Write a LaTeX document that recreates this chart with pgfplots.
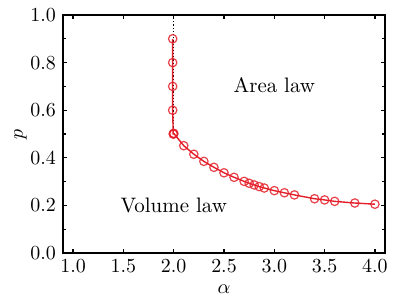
\documentclass[border=0pt]{standalone}
\usepackage{pgfplots}
\pgfplotsset{compat=1.18}
\definecolor{myred}{RGB}{228,30,40}
\begin{document}
\begin{tikzpicture}
\begin{axis}[name=ax,
  scale only axis, width=161bp, height=119bp,
  xmin=0.9, xmax=4.1, ymin=0, ymax=1,
  xtick={1,1.5,...,4}, ytick={0,0.2,...,1},
  minor ytick={0.1,0.3,0.5,0.7,0.9},
  xticklabel style={/pgf/number format/.cd,fixed,fixed zerofill,precision=1},
  yticklabel style={/pgf/number format/.cd,fixed,fixed zerofill,precision=1},
  tick align=inside, tick pos=both,
  major tick length=2.2bp, minor tick length=1.3bp,
  axis line style={line width=0.8pt},
  every tick/.style={line width=0.6pt, black},
  xlabel={$\alpha$}, ylabel={$p$},
  xlabel style={yshift=1pt}, ylabel style={yshift=-5pt},
  clip=false,
]
\addplot[black, densely dotted, line width=0.6pt] coordinates {(2.0,0.5) (2.0,1.0)};
\addplot[myred, line width=0.7pt, mark=o, mark size=2.1bp, mark options={line width=0.6pt, opacity=0.85}] coordinates {
(1.99,0.9) (1.99,0.8) (1.99,0.7) (1.99,0.6) (1.995,0.5) (2.0,0.5) (2.0,0.503)
(2.1,0.451) (2.2,0.415) (2.3,0.385) (2.4,0.360) (2.5,0.337) (2.6,0.318)
(2.7,0.301) (2.75,0.293) (2.8,0.286) (2.85,0.279) (2.9,0.273) (3.0,0.262)
(3.1,0.253) (3.2,0.244) (3.4,0.228) (3.5,0.223) (3.6,0.217) (3.8,0.210) (4.0,0.205)
};
\node[font=\fontsize{10.5}{12}\selectfont] at (axis cs:3.0,0.706) {Area law};
\node[font=\fontsize{10.5}{12}\selectfont] at (axis cs:2.0,0.2) {Volume law};
\end{axis}
\pgfresetboundingbox
\path ([xshift=-31.5bp,yshift=-25.5bp]ax.south west) rectangle ([xshift=5.5bp,yshift=7.5bp]ax.north east);
\end{tikzpicture}
\end{document}
